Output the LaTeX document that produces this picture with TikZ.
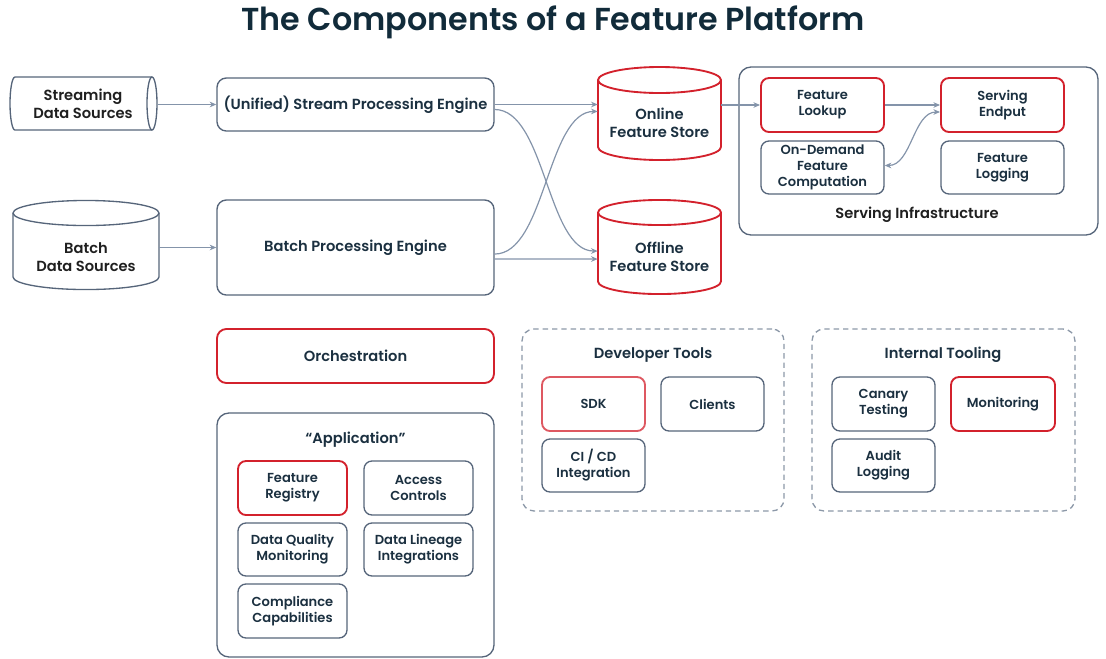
\documentclass[tikz,border=0pt]{standalone}
\usepackage{fontspec}
\setmainfont{Poppins SemiBold}
\usetikzlibrary{arrows.meta}

\definecolor{ink}{HTML}{1B3040}
\definecolor{titleink}{HTML}{112B3A}
\definecolor{edge}{HTML}{56657A}
\definecolor{flowgray}{HTML}{8494AA}
\definecolor{alert}{HTML}{D3212C}
\definecolor{dashgray}{HTML}{8C98A8}

\begin{document}
\begin{tikzpicture}[x=.75pt,y=-.75pt,>={Stealth[length=5pt,width=4.2pt]},line join=round,
    sz/.style 2 args={minimum width=#1*.75pt,minimum height=#2*.75pt},
    box/.style={draw=edge,line width=1pt,rounded corners=7pt,text=ink,align=center,
      inner sep=0pt,font=\fontsize{11}{13.5}\selectfont},
    hot/.style={draw=alert,line width=1.4pt},
    item/.style={box,rounded corners=6pt,font=\fontsize{9.8}{11.9}\selectfont},
    flow/.style={->,draw=flowgray,line width=.9pt},
    group/.style={draw=edge,line width=1pt,rounded corners=9pt},
    toolset/.style={draw=dashgray,line width=1pt,dash pattern=on 4pt off 3pt,rounded corners=9pt},
    heading/.style={text=ink,align=center,font=\fontsize{11}{13.5}\selectfont},
    can/.style={draw=edge,line width=1pt}]
  \useasboundingbox (0,0) rectangle (1106,658);

  \node[font=\fontsize{23.8}{28}\selectfont,text=titleink] (title) at (553,22)
    {The Components of a Feature Platform};

  % --- data sources (cylinders) ---
  \draw[can] (152,77) -- (15,77) arc[start angle=90,end angle=270,x radius=3.75pt,y radius=19.9pt] -- (152,130);
  \draw[can] (152,103.5) ellipse[x radius=3.75pt,y radius=19.9pt];
  \node[heading,text=black!88,sz={150}{53}] (stream) at (83,104) {Streaming\\Data Sources};

  \draw[can] (13,213) -- (13,277) arc[start angle=180,end angle=360,x radius=54.75pt,y radius=9.4pt] -- (159,213);
  \draw[can] (86,213) ellipse[x radius=54.75pt,y radius=9.4pt];
  \node[heading,text=black!88,sz={146}{60}] (batch) at (86,257) {Batch\\Data Sources};

  % --- processing engines ---
  \node[box,sz={277}{53}] (seng) at (355.5,104.5) {(Unified) Stream Processing Engine};
  \node[box,sz={277}{95}] (beng) at (355.5,247.5) {Batch Processing Engine};

  % --- feature stores ---
  \draw[can,alert,line width=1.4pt] (598,80) -- (598,147) arc[start angle=180,end angle=360,x radius=46.1pt,y radius=9.75pt] -- (721,80);
  \draw[can,alert,line width=1.4pt] (659.5,80) ellipse[x radius=46.1pt,y radius=9.75pt];
  \node[heading,sz={123}{80}] (onl) at (659.5,122.5) {Online\\Feature Store};

  \draw[can,alert,line width=1.4pt] (598,212.5) -- (598,281.5) arc[start angle=180,end angle=360,x radius=46.1pt,y radius=9.4pt] -- (721,212.5);
  \draw[can,alert,line width=1.4pt] (659.5,212.5) ellipse[x radius=46.1pt,y radius=9.4pt];
  \node[heading,sz={123}{80}] (offl) at (659.5,256.5) {Offline\\Feature Store};

  % --- serving infrastructure ---
  \node[group,sz={359}{168}] (serving) at (918.5,151) {};
  \node[heading,text=black!88] (servlbl) at (917,215) {Serving Infrastructure};
  \node[item,hot,sz={123}{54}] (look) at (822.5,105) {Feature\\Lookup};
  \node[item,hot,sz={123}{54}] (endp) at (1002.5,105) {Serving\\Endput};
  \node[item,sz={123}{53}] (ondem) at (822.5,167.5) {On-Demand\\Feature\\Computation};
  \node[item,sz={123}{53}] (flog) at (1002.5,167.5) {Feature\\Logging};

  % --- flows ---
  \draw[flow] (seng.west -| stream.east) -- (seng.west);
  \draw[flow] (beng.west -| batch.east) -- (beng.west);
  \draw[flow] (seng.east) -- (seng.east -| onl.west);
  \draw[flow] ([yshift=-3.75pt]seng.east) .. controls +(38pt,0) and +(-38pt,0) .. ([yshift=4.1pt]offl.west);
  \draw[flow] ([yshift=-4.9pt]beng.east) .. controls +(38pt,0) and +(-38pt,0) .. ([yshift=8.3pt]onl.west);
  \draw[flow] ([yshift=-8.6pt]beng.east) -- ([yshift=-1.9pt]offl.west);
  \draw[flow] (look.west -| onl.east) -- (look.west);
  \draw[flow] (look.east) -- (endp.west);
  \draw[flow,<->] ([yshift=-5.25pt]endp.west) .. controls +(-20pt,0) and +(20pt,0) .. ([yshift=1.5pt]ondem.east);

  % --- orchestration and application ---
  \node[box,hot,sz={277}{54}] (orch) at (355.5,356) {Orchestration};
  \node[group,sz={277}{244}] (app) at (355.5,535) {};
  \node[heading] (applbl) at (355.5,440) {“Application”};
  \node[item,hot,sz={109}{54}] (freg) at (292.5,488) {Feature\\Registry};
  \node[item,sz={109}{54}] (acc) at (418.5,488) {Access\\Controls};
  \node[item,sz={109}{53}] (dq) at (292.5,549.5) {Data Quality\\Monitoring};
  \node[item,sz={109}{53}] (dl) at (418.5,549.5) {Data Lineage\\Integrations};
  \node[item,sz={109}{54}] (comp) at (292.5,611) {Compliance\\Capabilities};

  % --- developer tools ---
  \node[toolset,sz={262}{182}] (dev) at (653,420) {};
  \node[heading] (devlbl) at (653,355) {Developer Tools};
  \node[item,hot,draw=alert!75,sz={103}{54}] (sdk) at (593.5,404) {SDK};
  \node[item,sz={103}{54}] (cli) at (712.5,404) {Clients};
  \node[item,sz={103}{53}] (cicd) at (593.5,465.5) {CI / CD\\Integration};

  % --- internal tooling ---
  \node[toolset,sz={263}{182}] (intl) at (943.5,420) {};
  \node[heading] (intlbl) at (943,355) {Internal Tooling};
  \node[item,sz={103}{54}] (canary) at (883.5,404) {Canary\\Testing};
  \node[item,hot,sz={104}{54}] (mon) at (1003,404) {Monitoring};
  \node[item,sz={103}{53}] (audit) at (883.5,465.5) {Audit\\Logging};
\end{tikzpicture}
\end{document}
